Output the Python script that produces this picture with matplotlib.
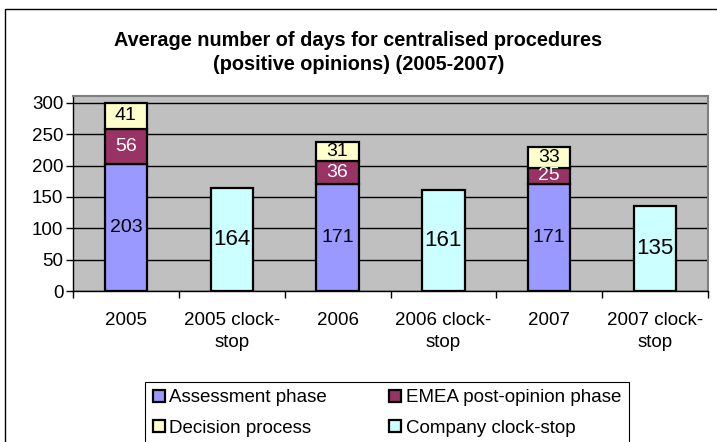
import matplotlib
matplotlib.use("Agg")
import matplotlib.pyplot as plt
from matplotlib.patches import Rectangle, Patch

plt.rcParams['font.family'] = ['Liberation Sans', 'DejaVu Sans']

# data
categories = ["2005", "2005 clock-\nstop", "2006", "2006 clock-\nstop", "2007", "2007 clock-\nstop"]
year_pos = [0, 2, 4]
stop_pos = [1, 3, 5]
assessment = [203, 171, 171]
emea = [56, 36, 25]
decision = [41, 31, 33]
clock_stop = [164, 161, 135]

col_assess = "#9999FF"
col_emea = "#993366"
col_dec = "#FFFFCC"
col_stop = "#CCFFFF"

W, H = 717, 442
fig = plt.figure(figsize=(W / 100, H / 100), dpi=100)

# outer chart border (only top/left visible in the original)
fig.patches.append(Rectangle((5 / W, -0.05), 1.1, (H - 9) / H + 0.05, transform=fig.transFigure,
                             fill=False, edgecolor="black", linewidth=1.0))

ax = fig.add_axes([73 / W, 1 - 291 / H, (708 - 73) / W, (291 - 96) / H])
ax.set_facecolor("#C0C0C0")

bw = 0.4
ekw = dict(edgecolor="black", linewidth=1.6, width=bw, zorder=3)
b1 = ax.bar(year_pos, assessment, color=col_assess, **ekw)
bottom2 = assessment
b2 = ax.bar(year_pos, emea, bottom=bottom2, color=col_emea, **ekw)
bottom3 = [a + e for a, e in zip(assessment, emea)]
b3 = ax.bar(year_pos, decision, bottom=bottom3, color=col_dec, **ekw)
b4 = ax.bar(stop_pos, clock_stop, color=col_stop, **ekw)

ax.bar_label(b1, label_type="center", fontsize=14, color="black", zorder=4)
ax.bar_label(b2, label_type="center", fontsize=14, color="white", zorder=4)
ax.bar_label(b3, label_type="center", fontsize=14, color="black", zorder=4)
ax.bar_label(b4, label_type="center", fontsize=16, color="black", zorder=4)

ax.set_xlim(-0.5, 5.5)
ax.set_ylim(0, 311)
ax.set_yticks(range(0, 301, 50))
ax.yaxis.grid(True, color="black", linewidth=1.0, zorder=1)
ax.set_axisbelow(True)

ax.set_xticks(range(6))
ax.set_xticklabels(categories, fontsize=13.5, linespacing=1.4)
ax.set_xticks([i - 0.5 for i in range(7)], minor=True)
ax.tick_params(axis="x", which="major", length=0, pad=15)
ax.tick_params(axis="x", which="minor", length=5, width=1, direction="out")
ax.tick_params(axis="y", length=5, width=1, direction="out", labelsize=13.5, pad=2)

for s in ["top", "right"]:
    ax.spines[s].set_color("#808080")
    ax.spines[s].set_linewidth(1.5)
for s in ["left", "bottom"]:
    ax.spines[s].set_color("black")
    ax.spines[s].set_linewidth(1.0)

fig.text(0.5, 1 - 40 / H, "Average number of days for centralised procedures",
         ha="center", va="center", fontsize=14.3, fontweight="bold")
fig.text(0.5, 1 - 64 / H, "(positive opinions) (2005-2007)",
         ha="center", va="center", fontsize=14.3, fontweight="bold")

handles = [
    Patch(facecolor=col_assess, edgecolor="black", linewidth=1.6),
    Patch(facecolor=col_dec, edgecolor="black", linewidth=1.6),
    Patch(facecolor=col_emea, edgecolor="black", linewidth=1.6),
    Patch(facecolor=col_stop, edgecolor="black", linewidth=1.6),
]
labels = ["Assessment phase", "Decision process", "EMEA post-opinion phase", "Company clock-stop"]
leg = fig.legend(handles, labels, ncol=2, loc="upper left",
                 bbox_to_anchor=(145 / W, 1 - 382 / H), fontsize=13.5,
                 frameon=True, fancybox=False, edgecolor="black", framealpha=1,
                 handlelength=0.65, handleheight=0.65, handletextpad=0.25,
                 columnspacing=3.3, borderpad=0.4, labelspacing=0.7, borderaxespad=0)
leg.get_frame().set_linewidth(0.8)

fig.savefig("out.png", dpi=100)
